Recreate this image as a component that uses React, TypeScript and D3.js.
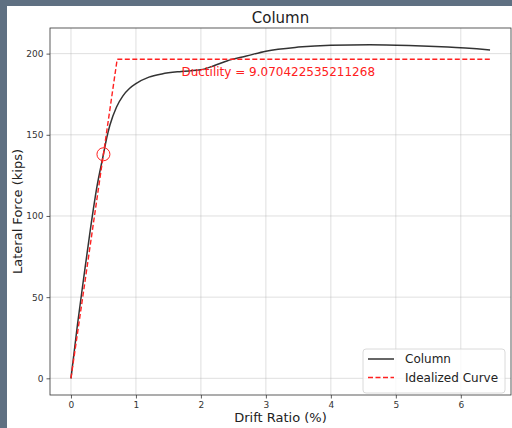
import * as d3 from "d3";
import React, { useRef, useEffect } from "react";

// column pushover curve
const driftRatio = [0, 0.1, 0.2, 0.3, 0.4, 0.5, 0.55, 0.6, 0.7, 0.8, 0.9, 1.0, 1.2, 1.4, 1.7, 2.0, 2.2, 2.4, 2.7, 3.0, 3.5, 4.0, 4.6, 5.2, 5.8, 6.45];
const lateralForce = [0, 33, 63, 92, 118, 138, 148, 156, 167, 174, 178.5, 181.5, 185.5, 187.5, 189, 190, 192.5, 195.5, 198.5, 201.5, 204, 205.2, 205.5, 205, 204, 202.3];

// bilinear idealization
const idealDrift = [0, 0.7111, 6.45];
const idealForce = [0, 196.5, 196.5];

const markerDrift = 0.5;
const markerForce = 138;

const ductility = 9.070422535211268;
const ductilityLabelX = 1.7;
const ductilityLabelY = 186;

const xTicks = [0, 1, 2, 3, 4, 5, 6];
const yTicks = [0, 50, 100, 150, 200];

const FONT = "'DejaVu Sans', sans-serif";
const RED = "#ff2020";

function App() {
  const svgRef = useRef<SVGSVGElement | null>(null);

  useEffect(() => {
    const W = 512;
    const H = 428;
    const svg = d3.select(svgRef.current).attr("width", W).attr("height", H);
    svg.selectAll("*").remove();

    // dark frame + white figure
    svg.append("rect").attr("width", W).attr("height", H).attr("fill", "#5f7082");
    svg.append("rect").attr("x", 7).attr("y", 6).attr("width", W - 7).attr("height", H - 6).attr("fill", "#fff");

    const left = 50, right = 511, top = 28, bottom = 395;

    const xPad = (d3.max(driftRatio)! - 0) * 0.05;
    const yMax = d3.max(lateralForce)!;
    const yPad = yMax * 0.05;

    const x = d3.scaleLinear().domain([0 - xPad, d3.max(driftRatio)! + xPad]).range([left, right]);
    const y = d3.scaleLinear().domain([0 - yPad, yMax + yPad]).range([bottom, top]);

    // grid
    const grid = svg.append("g").attr("stroke", "#b0b0b0").attr("stroke-opacity", 0.5).attr("stroke-width", 0.8);
    xTicks.forEach(t => {
      grid.append("line").attr("x1", x(t)).attr("x2", x(t)).attr("y1", top).attr("y2", bottom);
    });
    yTicks.forEach(t => {
      grid.append("line").attr("x1", left).attr("x2", right).attr("y1", y(t)).attr("y2", y(t));
    });

    // axes
    const xAxis = d3.axisBottom(x).tickValues(xTicks).tickSize(3.5).tickPadding(3).tickFormat(d => String(d));
    const yAxis = d3.axisLeft(y).tickValues(yTicks).tickSize(3.5).tickPadding(3).tickFormat(d => String(d));

    const gx = svg.append("g").attr("transform", `translate(0,${bottom})`).call(xAxis);
    const gy = svg.append("g").attr("transform", `translate(${left},0)`).call(yAxis);
    [gx, gy].forEach(g => {
      g.select(".domain").remove();
      g.selectAll("line").attr("stroke", "#333").attr("stroke-width", 0.8);
      g.selectAll("text").attr("font-family", FONT).attr("font-size", 9).attr("fill", "#333");
    });

    // curves
    const line = d3.line<number>()
      .x((d, i) => x(driftRatio[i]))
      .y(d => y(d))
      .curve(d3.curveMonotoneX);

    svg.append("path")
      .datum(lateralForce)
      .attr("d", line)
      .attr("fill", "none")
      .attr("stroke", "#000")
      .attr("stroke-opacity", 0.8)
      .attr("stroke-width", 1.5);

    const idealLine = d3.line<number>()
      .x((d, i) => x(idealDrift[i]))
      .y(d => y(d));

    svg.append("path")
      .datum(idealForce)
      .attr("d", idealLine)
      .attr("fill", "none")
      .attr("stroke", RED)
      .attr("stroke-width", 1.4)
      .attr("stroke-dasharray", "5,2.5");

    svg.append("circle")
      .attr("cx", x(markerDrift))
      .attr("cy", y(markerForce))
      .attr("r", 6.5)
      .attr("fill", "none")
      .attr("stroke", RED)
      .attr("stroke-width", 1);

    svg.append("text")
      .attr("x", x(ductilityLabelX))
      .attr("y", y(ductilityLabelY))
      .attr("font-family", FONT)
      .attr("font-size", 12)
      .attr("fill", RED)
      .text(`Ductility = ${ductility}`);

    // spines
    svg.append("rect")
      .attr("x", left).attr("y", top)
      .attr("width", right - left).attr("height", bottom - top)
      .attr("fill", "none").attr("stroke", "#333").attr("stroke-width", 0.8);

    // labels
    svg.append("text")
      .attr("x", (left + right) / 2).attr("y", 23)
      .attr("text-anchor", "middle")
      .attr("font-family", FONT).attr("font-size", 15).attr("fill", "#222")
      .text("Column");

    svg.append("text")
      .attr("x", (left + right) / 2).attr("y", 422)
      .attr("text-anchor", "middle")
      .attr("font-family", FONT).attr("font-size", 13).attr("fill", "#222")
      .text("Drift Ratio (%)");

    svg.append("text")
      .attr("transform", `translate(22,${(top + bottom) / 2}) rotate(-90)`)
      .attr("text-anchor", "middle")
      .attr("font-family", FONT).attr("font-size", 13).attr("fill", "#222")
      .text("Lateral Force (kips)");

    // legend
    const lg = svg.append("g");
    lg.append("rect")
      .attr("x", 363).attr("y", 349).attr("width", 142).attr("height", 44)
      .attr("rx", 3)
      .attr("fill", "#fff").attr("fill-opacity", 0.8)
      .attr("stroke", "#d0d0d0").attr("stroke-width", 0.8);
    const items = [
      { label: "Column", color: "#000", opacity: 0.8, dash: "none", width: 1.5 },
      { label: "Idealized Curve", color: RED, opacity: 1, dash: "5,2.5", width: 1.4 },
    ];
    items.forEach((it, i) => {
      const cy = 359 + i * 18.5;
      lg.append("line")
        .attr("x1", 368).attr("x2", 394).attr("y1", cy).attr("y2", cy)
        .style("stroke", it.color)
        .style("stroke-opacity", it.opacity)
        .style("stroke-width", it.width)
        .style("stroke-dasharray", it.dash);
      lg.append("text")
        .attr("x", 405).attr("y", cy + 4.3)
        .attr("font-family", FONT).attr("font-size", 12).attr("fill", "#222")
        .text(it.label);
    });
  }, []);

  return (
    <div style={{ position: "fixed", left: 0, top: 0 }}>
      <svg ref={svgRef} style={{ display: "block" }}></svg>
    </div>
  );
}

export default App;
